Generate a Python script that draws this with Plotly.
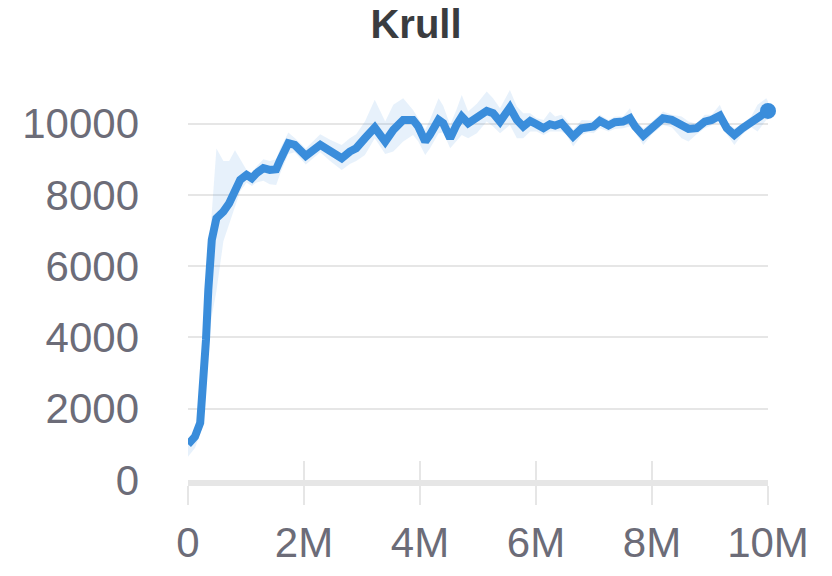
import plotly.graph_objects as go

# Training steps (millions)
steps_m = [0.00, 0.12, 0.21, 0.26, 0.31, 0.35, 0.41, 0.49, 0.61, 0.71, 0.81, 0.90,
           1.01, 1.10, 1.18, 1.30, 1.41, 1.52, 1.59, 1.73, 1.84, 2.03, 2.28, 2.45,
           2.65, 2.79, 2.90, 3.05, 3.22, 3.40, 3.54, 3.71, 3.88, 3.97, 4.09, 4.17,
           4.32, 4.40, 4.52, 4.63, 4.72, 4.83, 4.98, 5.15, 5.26, 5.38, 5.55, 5.67,
           5.78, 5.90, 6.01, 6.13, 6.24, 6.33, 6.44, 6.53, 6.64, 6.79, 6.90, 6.99,
           7.10, 7.25, 7.36, 7.50, 7.62, 7.71, 7.85, 8.00, 8.19, 8.34, 8.51, 8.63,
           8.77, 8.91, 9.03, 9.17, 9.29, 9.42, 9.56, 9.71, 9.82, 9.97, 10.0]

mean_score = [1000, 1215, 1600, 2526, 3930, 5333, 6737, 7346, 7532, 7766, 8140, 8421,
              8561, 8468, 8608, 8749, 8702, 8721, 8982, 9450, 9403, 9094, 9403, 9216,
              9029, 9216, 9310, 9590, 9890, 9497, 9825, 10105, 10105, 9918, 9497, 9684,
              10105, 10012, 9590, 9965, 10199, 10012, 10152, 10358, 10293, 10058, 10451, 10105,
              9918, 10077, 9984, 9872, 9984, 9946, 10012, 9872, 9637, 9872, 9918, 9918,
              10077, 9946, 10040, 10058, 10152, 9918, 9665, 9872, 10152, 10105, 9918, 9853,
              9872, 10058, 10105, 10227, 9872, 9684, 9872, 10058, 10152, 10386, 10358]

upper_score = [1080, 1350, 1900, 3400, 5000, 6200, 7500, 9300, 8950, 8950, 9250, 9000,
               8700, 8600, 8800, 9000, 8950, 9000, 9300, 9750, 9600, 9300, 9700, 9550,
               9400, 9590, 9700, 10058, 10667, 10058, 10527, 10713, 10386, 10150, 9825, 10100,
               10713, 10500, 9965, 10400, 10807, 10339, 10560, 10900, 10713, 10433, 10947, 10480,
               10292, 10292, 10152, 10105, 10339, 10200, 10246, 10105, 9825, 10105, 10100, 10080,
               10250, 10100, 10200, 10200, 10433, 10100, 9872, 10050, 10339, 10250, 10199, 10058,
               10000, 10246, 10250, 10527, 10050, 9872, 10000, 10200, 10527, 10713, 10620]

lower_score = [650, 900, 1300, 2000, 2900, 3800, 4600, 5300, 6700, 7200, 7700, 8100,
               8350, 8250, 8350, 8400, 8300, 8280, 8600, 9150, 9200, 8850, 9200, 8950,
               8700, 8870, 8950, 9123, 9590, 9150, 9216, 9497, 9684, 9500, 9123, 9300,
               9730, 9750, 9310, 9500, 9684, 9590, 9730, 10058, 9918, 9731, 9965, 9590,
               9590, 9778, 9778, 9684, 9778, 9778, 9778, 9684, 9357, 9684, 9750, 9730,
               9870, 9780, 9850, 9870, 9918, 9750, 9403, 9700, 9965, 9900, 9590, 9497,
               9700, 9872, 9950, 10058, 9700, 9403, 9700, 9900, 9778, 10105, 10100]

x_tickvals = [0, 2, 4, 6, 8, 10]
x_ticktext = ["0", "2M", "4M", "6M", "8M", "10M"]
y_tickvals = [0, 2000, 4000, 6000, 8000, 10000]
y_ticktext = ["0", "2000", "4000", "6000", "8000", "10000"]

LINE = "#3a8ddb"
FONT = "Liberation Sans, Arial, sans-serif"
GRID = "#e6e6e6"
TICKC = "#6c6c78"

fig = go.Figure()
fig.add_trace(go.Scatter(x=steps_m, y=upper_score, mode="lines", line=dict(width=0),
                         hoverinfo="skip", showlegend=False))
fig.add_trace(go.Scatter(x=steps_m, y=lower_score, mode="lines", line=dict(width=0),
                         fill="tonexty", fillcolor="rgba(58,141,219,0.12)",
                         hoverinfo="skip", showlegend=False))
fig.add_trace(go.Scatter(x=steps_m, y=mean_score, mode="lines",
                         line=dict(color=LINE, width=8), showlegend=False))
fig.add_trace(go.Scatter(x=steps_m[-1:], y=mean_score[-1:], mode="markers",
                         marker=dict(color=LINE, size=16), cliponaxis=False,
                         showlegend=False))
# invisible trace on xaxis2 for the upward tick marks
fig.add_trace(go.Scatter(x=steps_m[:1], y=mean_score[:1], xaxis="x2", mode="lines",
                         line=dict(width=0), hoverinfo="skip", showlegend=False))

fig.update_layout(
    width=832, height=576,
    margin=dict(l=180, r=72, t=80, b=104),
    paper_bgcolor="white", plot_bgcolor="white",
    title=dict(text="<b>Krull</b>", x=408 / 832, xref="container", xanchor="center",
               y=1 - 16 / 576, yref="container", yanchor="middle",
               font=dict(family=FONT, size=40, color="#3a3c3f")),
    xaxis=dict(range=[0, 10], tickvals=x_tickvals, ticktext=x_ticktext,
               showgrid=False, zeroline=False, showline=True, linewidth=6,
               linecolor=GRID, ticks="outside", ticklen=19, tickwidth=2,
               tickcolor=GRID, ticklabelstandoff=2,
               tickfont=dict(family=FONT, size=42, color=TICKC)),
    xaxis2=dict(range=[0, 10], tickvals=x_tickvals, overlaying="x", anchor="y",
                side="bottom", showgrid=False, zeroline=False, showline=False,
                ticks="inside", ticklen=19, tickwidth=2, tickcolor=GRID,
                showticklabels=False),
    yaxis=dict(range=[0, 11000], tickvals=y_tickvals, ticktext=y_ticktext,
               showgrid=True, gridcolor=GRID, gridwidth=2, zeroline=False,
               showline=False, ticks="", ticklabelstandoff=48,
               tickfont=dict(family=FONT, size=42, color=TICKC)),
)

fig.write_html("out.html")
